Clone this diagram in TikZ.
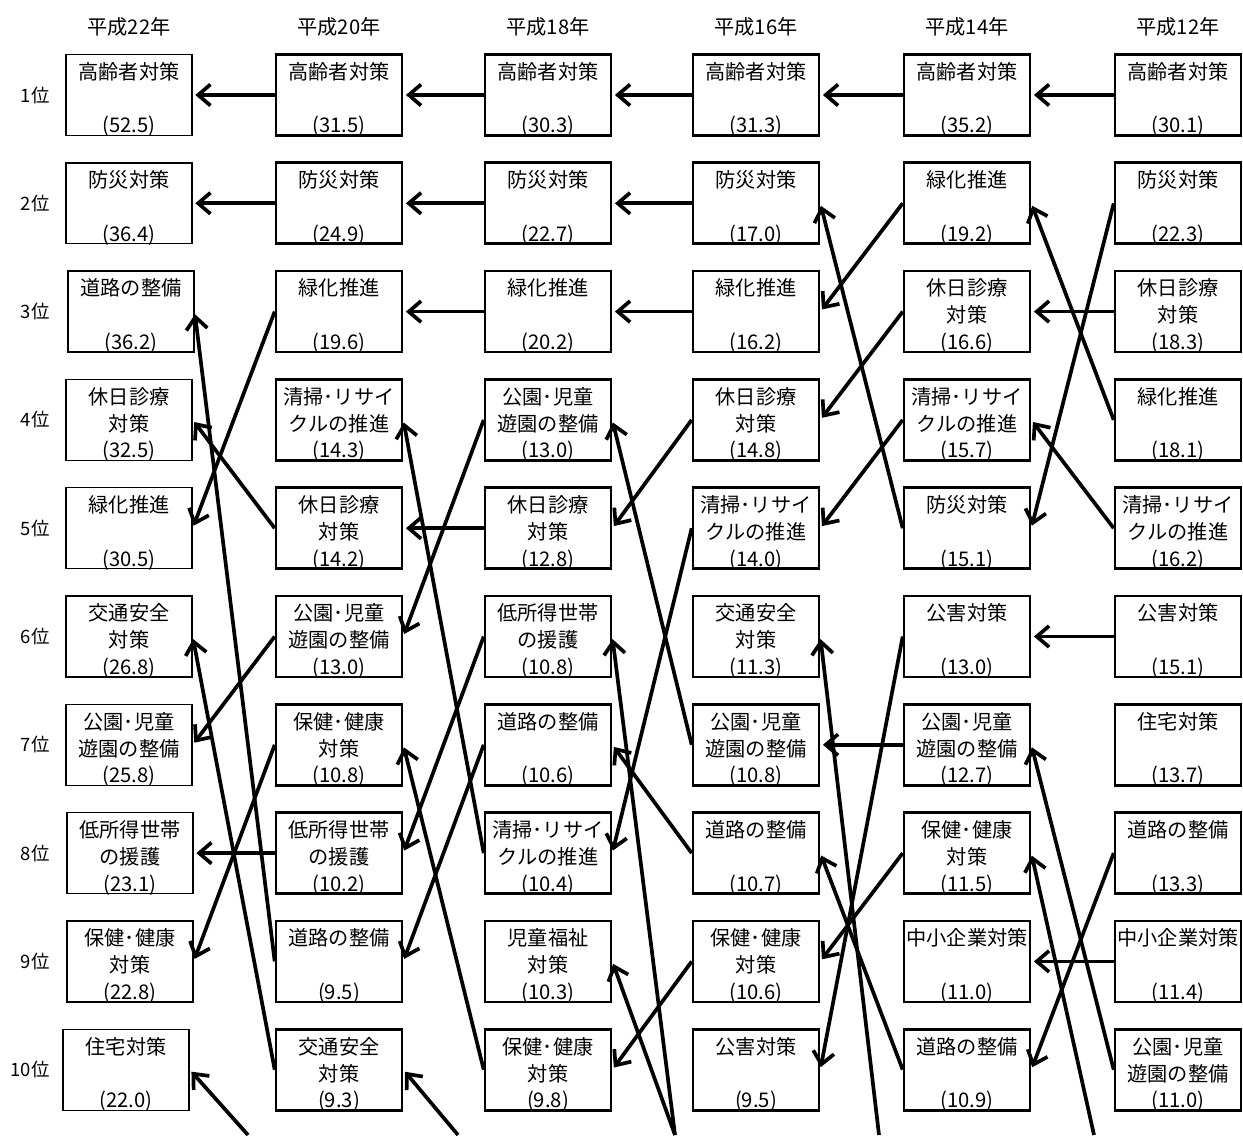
\documentclass[tikz,border=0pt]{standalone}
\usepackage{fontspec}
\setmainfont{Noto Sans CJK JP}
\usetikzlibrary{arrows.meta}
\tikzstyle{rankbox}=[rectangle,draw,line width=1.5pt,minimum width=2.52cm,minimum height=1.62cm,inner sep=0pt]
\tikzstyle{thinbox}=[rankbox,line width=0.8pt]
\tikzstyle{item}=[align=center,anchor=north,inner sep=0pt,font=\fontsize{11.5pt}{15.4pt}\selectfont]
\tikzstyle{score}=[anchor=base,inner sep=0pt,font=\fontsize{11.5pt}{15.4pt}\selectfont]
\tikzstyle{year}=[inner sep=0pt,font=\fontsize{11.5pt}{15.4pt}\selectfont]
\tikzstyle{rank}=[anchor=east,inner sep=0pt,font=\fontsize{10.5pt}{12pt}\selectfont]
\tikzstyle{edge}=[draw,line width=2.1pt,-{Straight Barb[length=7pt,width=12pt]},shorten >=1.5pt]

\begin{document}
\begin{tikzpicture}[x=0.02cm,y=-0.02cm]

    \useasboundingbox (0,0) rectangle (1243,1135);

    % headers and ranks
    \foreach \x/\yr in {129/22, 339/20, 548/18, 756/16, 967/14, 1178/12}
        \node[year] (head\yr) at (\x,27) {平成\yr 年};

    \foreach \r in {1,...,10}
    {
        \pgfmathsetmacro\yy{95+(\r-1)*108.3}
        \node[rank] (rank\r) at (50,\yy) {\r 位};
    }

    % 平成22年
    \foreach \x/\r/\lab/\val in {129/1/高齢者対策/52.5, 129/2/防災対策/36.4, 131/3/道路の整備/36.2,
        129/4/{休日診療\\対策}/32.5, 129/5/緑化推進/30.5, 129/6/{交通安全\\対策}/26.8,
        129/7/{公園･児童\\遊園の整備}/25.8, 130/8/{低所得世帯\\の援護}/23.1,
        130/9/{保健･健康\\対策}/22.8, 126/10/住宅対策/22.0}
    {
        \pgfmathsetmacro\yy{95+(\r-1)*108.3}
        \node[thinbox] (a\r) at (\x,\yy) {};
        \node[item] (a\r-t) at (\x,\yy-33) {\lab};
        \node[score] (a\r-v) at (\x,\yy+38) {(\val)};
    }

    % 平成20年
    \foreach \r/\lab/\val in {1/高齢者対策/31.5, 2/防災対策/24.9, 3/緑化推進/19.6,
        4/{清掃･リサイ\\クルの推進}/14.3, 5/{休日診療\\対策}/14.2, 6/{公園･児童\\遊園の整備}/13.0,
        7/{保健･健康\\対策}/10.8, 8/{低所得世帯\\の援護}/10.2, 9/道路の整備/9.5,
        10/{交通安全\\対策}/9.3}
    {
        \pgfmathsetmacro\yy{95+(\r-1)*108.3}
        \node[rankbox] (b\r) at (339,\yy) {};
        \node[item] (b\r-t) at (339,\yy-33) {\lab};
        \node[score] (b\r-v) at (339,\yy+38) {(\val)};
    }

    % 平成18年
    \foreach \r/\lab/\val in {1/高齢者対策/30.3, 2/防災対策/22.7, 3/緑化推進/20.2,
        4/{公園･児童\\遊園の整備}/13.0, 5/{休日診療\\対策}/12.8, 6/{低所得世帯\\の援護}/10.8,
        7/道路の整備/10.6, 8/{清掃･リサイ\\クルの推進}/10.4, 9/{児童福祉\\対策}/10.3,
        10/{保健･健康\\対策}/9.8}
    {
        \pgfmathsetmacro\yy{95+(\r-1)*108.3}
        \node[rankbox] (c\r) at (548,\yy) {};
        \node[item] (c\r-t) at (548,\yy-33) {\lab};
        \node[score] (c\r-v) at (548,\yy+38) {(\val)};
    }

    % 平成16年
    \foreach \r/\lab/\val in {1/高齢者対策/31.3, 2/防災対策/17.0, 3/緑化推進/16.2,
        4/{休日診療\\対策}/14.8, 5/{清掃･リサイ\\クルの推進}/14.0, 6/{交通安全\\対策}/11.3,
        7/{公園･児童\\遊園の整備}/10.8, 8/道路の整備/10.7, 9/{保健･健康\\対策}/10.6,
        10/公害対策/9.5}
    {
        \pgfmathsetmacro\yy{95+(\r-1)*108.3}
        \node[rankbox] (d\r) at (756,\yy) {};
        \node[item] (d\r-t) at (756,\yy-33) {\lab};
        \node[score] (d\r-v) at (756,\yy+38) {(\val)};
    }

    % 平成14年
    \foreach \r/\lab/\val in {1/高齢者対策/35.2, 2/緑化推進/19.2, 3/{休日診療\\対策}/16.6,
        4/{清掃･リサイ\\クルの推進}/15.7, 5/防災対策/15.1, 6/公害対策/13.0,
        7/{公園･児童\\遊園の整備}/12.7, 8/{保健･健康\\対策}/11.5, 9/中小企業対策/11.0,
        10/道路の整備/10.9}
    {
        \pgfmathsetmacro\yy{95+(\r-1)*108.3}
        \node[rankbox] (e\r) at (967,\yy) {};
        \node[item] (e\r-t) at (967,\yy-33) {\lab};
        \node[score] (e\r-v) at (967,\yy+38) {(\val)};
    }

    % 平成12年
    \foreach \r/\lab/\val in {1/高齢者対策/30.1, 2/防災対策/22.3, 3/{休日診療\\対策}/18.3,
        4/緑化推進/18.1, 5/{清掃･リサイ\\クルの推進}/16.2, 6/公害対策/15.1,
        7/住宅対策/13.7, 8/道路の整備/13.3, 9/中小企業対策/11.4,
        10/{公園･児童\\遊園の整備}/11.0}
    {
        \pgfmathsetmacro\yy{95+(\r-1)*108.3}
        \node[rankbox] (f\r) at (1178,\yy) {};
        \node[item] (f\r-t) at (1178,\yy-33) {\lab};
        \node[score] (f\r-v) at (1178,\yy+38) {(\val)};
    }

    % entries from below rank 10
    \coordinate (ina) at (248,1135);
    \coordinate (inb) at (458,1135);
    \coordinate (inc) at (675,1135);
    \coordinate (ind) at (879,1135);
    \coordinate (ine) at (1094,1135);

    \foreach \source/\dest in {b1/a1, b2/a2, b3/a5, b5/a4, b6/a7, b7/a9, b8/a8, b9/a3, b10/a6,
        c1/b1, c2/b2, c3/b3, c4/b6, c5/b5, c6/b8, c7/b9, c8/b4, c10/b7,
        d1/c1, d2/c2, d3/c3, d4/c5, d5/c8, d7/c4, d8/c7, d9/c10,
        e1/d1, e2/d3, e3/d4, e4/d5, e5/d2, e6/d10, e7/d7, e8/d9, e10/d8,
        f1/e1, f2/e5, f3/e3, f4/e2, f5/e4, f6/e6, f8/e10, f9/e9, f10/e7}
        \path[edge] (\source.west) -- (\dest.east);

    \foreach \source/\dest in {ina/a10, inb/b10, inc/c6, inc/c9, ind/d6, ine/e8}
        \path[edge] (\source) -- (\dest.east);

\end{tikzpicture}
\end{document}
